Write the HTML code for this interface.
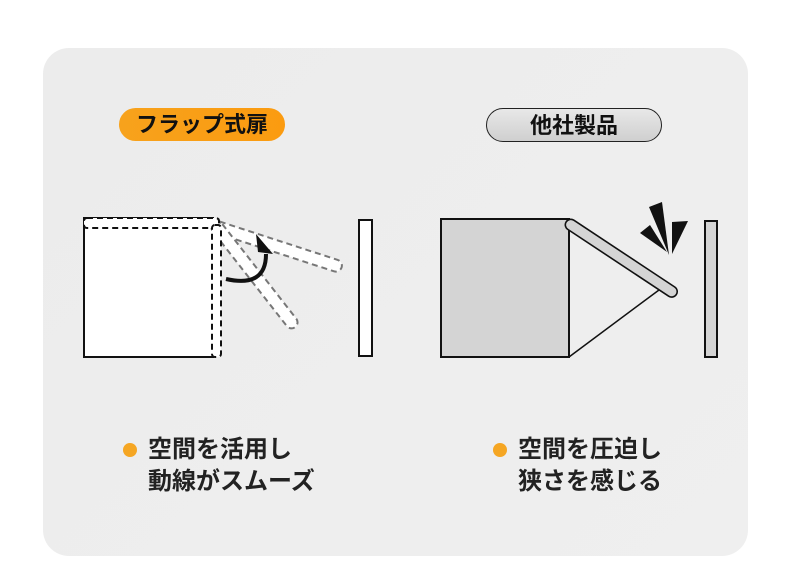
<!DOCTYPE html>
<html><head><meta charset="utf-8"><style>
body{margin:0;width:790px;height:562px;background:#fff;position:relative;overflow:hidden;font-family:"Liberation Sans","Noto Sans CJK JP",sans-serif}
.card{position:absolute;left:43px;top:48px;width:705px;height:508px;border-radius:26px;background:linear-gradient(135deg,#ececec,#efefef)}
.pill{position:absolute;height:33px;border-radius:17px;font-weight:bold;font-size:22px;text-align:center;line-height:33px;color:#111}
.t{position:absolute;font-weight:bold;font-size:24px;line-height:32px;color:#222}
.dot{position:absolute;width:14px;height:14px;border-radius:50%;background:#f5a623}
</style></head><body>
<div class="card"></div>
<div class="pill" style="left:119px;top:108px;width:166px;background:linear-gradient(90deg,#f7a21c,#fb9b10)">フラップ式扉</div>
<div class="pill" style="left:486px;top:108px;width:174px;height:32px;border:1.5px solid #222;background:linear-gradient(#e8e8e8,#cfcfcf)">他社製品</div>
<svg style="position:absolute;left:0;top:0" width="790" height="562">
<rect x="84" y="218" width="129" height="139" fill="#fff" stroke="#111" stroke-width="2"/>
<g fill="#fff" stroke="#777" stroke-width="2" stroke-dasharray="6,4">
<rect x="212" y="221" width="136" height="12" rx="6" transform="rotate(18 217 227)"/>
<rect x="212" y="221" width="132" height="12" rx="6" transform="rotate(52 217 227)"/>
</g>
<g fill="#fff" stroke="#111" stroke-width="2" stroke-dasharray="6,4">
<rect x="84" y="218" width="135" height="10" rx="3"/>
<rect x="212" y="225" width="9" height="132" rx="3"/>
</g>
<path d="M226 279 Q266 288 266 254" fill="none" stroke="#111" stroke-width="4"/>
<polygon points="256,234 273,254 258,252" fill="#111"/>
<rect x="359" y="220" width="13" height="136" fill="#fff" stroke="#111" stroke-width="2"/>
<rect x="441" y="219" width="128" height="138" fill="#d4d4d4" stroke="#111" stroke-width="2"/>
<line x1="569" y1="357" x2="659" y2="290" stroke="#111" stroke-width="1.5"/>
<rect x="566" y="218" width="132" height="11" rx="5.5" fill="#d4d4d4" stroke="#111" stroke-width="1.6" transform="rotate(33.5 569 223)"/>
<rect x="705" y="221" width="12" height="136" fill="#d4d4d4" stroke="#111" stroke-width="2"/>
<polygon points="649,207 662,202 669,255" fill="#111"/>
<polygon points="640,233 650,225 667,252" fill="#111"/>
<polygon points="672,222 688,221 672,254" fill="#111"/>
</svg>
<div class="dot" style="left:123px;top:443px"></div>
<div class="t" style="left:148px;top:434px">空間を活用し<br>動線がスムーズ</div>
<div class="dot" style="left:493px;top:443px"></div>
<div class="t" style="left:518px;top:434px">空間を圧迫し<br>狭さを感じる</div>
</body></html>
